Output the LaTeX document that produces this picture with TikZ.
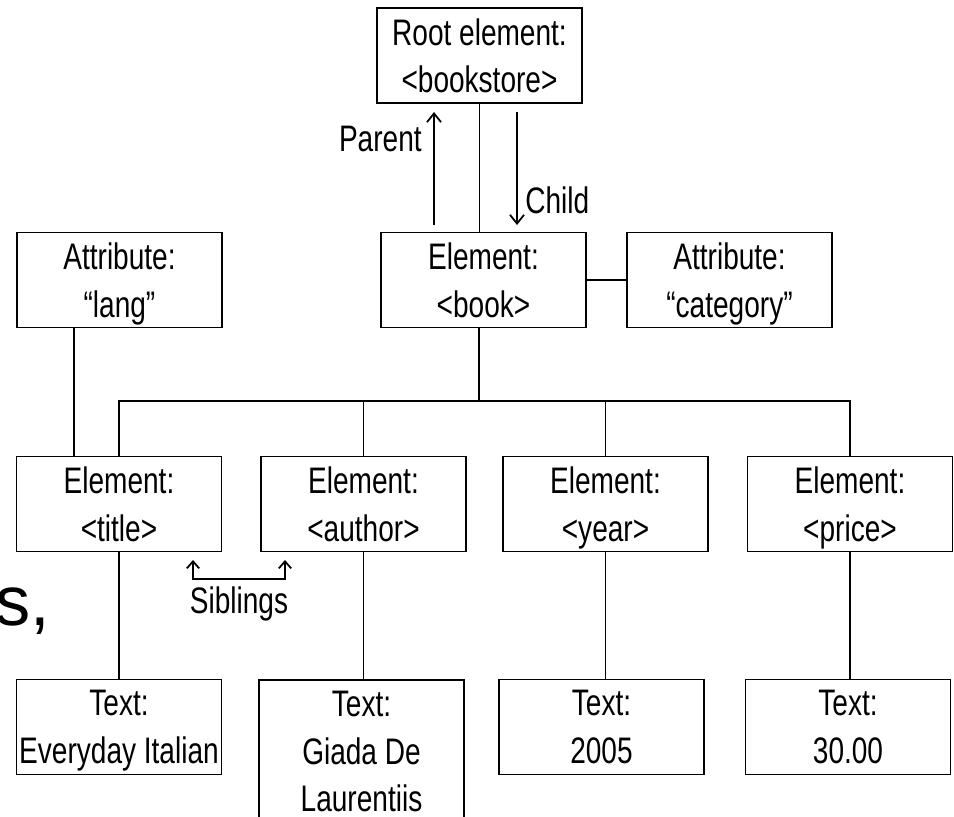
\documentclass[tikz,border=0pt]{standalone}
\usepackage{fontspec}
\setmainfont{Liberation Sans}
\newfontfamily\boxfont[FakeStretch=0.76]{Liberation Sans}
\usetikzlibrary{arrows.meta,positioning}
\tikzset{
  blk/.style={draw,rectangle,line width=1pt,minimum width=4.1cm,minimum height=1.9cm,inner sep=0pt,align=center,text depth=0cm,font=\boxfont\fontsize{21}{27}\selectfont},
  lbl/.style={font=\boxfont\fontsize{21}{27}\selectfont,inner sep=0pt},
  lnk/.style={line width=1pt},
  arr/.style={-{Straight Barb[length=5pt,width=8pt]},line width=1pt},
  sib/.style={{Straight Barb[length=4pt,width=7pt]}-{Straight Barb[length=4pt,width=7pt]},line width=1pt}
}

\begin{document}
\begin{tikzpicture}
  \useasboundingbox (0,0) rectangle (19.08,-16.34);
  % Root and book element
  \node[blk] (root) at (9.59,-1.11) {Root element:\\<bookstore>};
  \node[blk] (book) at (9.67,-5.6) {Element:\\<book>};
  \draw[lnk] (root.south) -- (root.south |- book.north);

  % Parent / child arrows
  \coordinate (ptop) at (8.68,-2.24);
  \coordinate (pbot) at (8.68,-4.5);
  \coordinate (ctop) at (10.34,-2.24);
  \coordinate (cbot) at (10.34,-4.5);
  \draw[arr] (pbot) -- (ptop);
  \draw[arr] (ctop) -- (cbot);
  \node[lbl, anchor=base east] (lparent) at (8.44,-3.04) {Parent};
  \node[lbl, anchor=base west] (lchild) at (10.5,-4.26) {Child};

  % Attributes
  \node[blk] (lang) at (2.39,-5.6) {Attribute:\\“lang”};
  \node[blk] (cat) at (14.59,-5.6) {Attribute:\\“category”};
  \draw[lnk] (book.east) -- (cat.west);

  % Child elements
  \node[blk] (title) at (2.38,-10.08) {Element:\\<title>};
  \node[blk] (author) at (7.27,-10.08) {Element:\\<author>};
  \node[blk] (year) at (12.11,-10.08) {Element:\\<year>};
  \node[blk] (price) at (17.0,-10.08) {Element:\\<price>};

  % Bus from book to elements
  \coordinate (bus) at (9.58,-8.02);
  \draw[lnk] (bus |- book.south) -- (bus);
  \draw[lnk] (title.north) |- (bus) -| (price.north);
  \foreach \e in {author,year}
    \draw[lnk] (\e.north) -- (\e.north |- bus);
  \coordinate (lx) at (1.48,-6.54);
  \draw[lnk] (lx) -- (lx |- title.north);

  % Text nodes
  \node[blk] (ttitle) at (2.38,-14.54) {Text:\\Everyday Italian};
  \node[blk, anchor=north, minimum height=2.86cm] (tauthor) at (7.23,-13.58) {Text:\\Giada De\\Laurentiis};
  \node[blk] (tyear) at (12.03,-14.54) {Text:\\2005};
  \node[blk] (tprice) at (16.96,-14.54) {Text:\\30.00};
  \foreach \e/\t in {title/ttitle,author/tauthor,year/tyear,price/tprice}
    \draw[lnk] (\e.south) -- (\e.south |- \t.north);

  % Siblings
  \coordinate (sibl) at (3.86,-11.2);
  \coordinate (sibr) at (5.7,-11.2);
  \draw[sib] (sibl) -- ++(0,-0.38) -| (sibr);
  \node[lbl, anchor=base] (lsib) at (4.78,-12.26) {Siblings};

  % Cut-off slide text
  \node[font=\fontsize{40}{48}\selectfont, anchor=base west, inner sep=0pt] (frag) at (-0.1,-12.5) {s,};
\end{tikzpicture}
\end{document}
